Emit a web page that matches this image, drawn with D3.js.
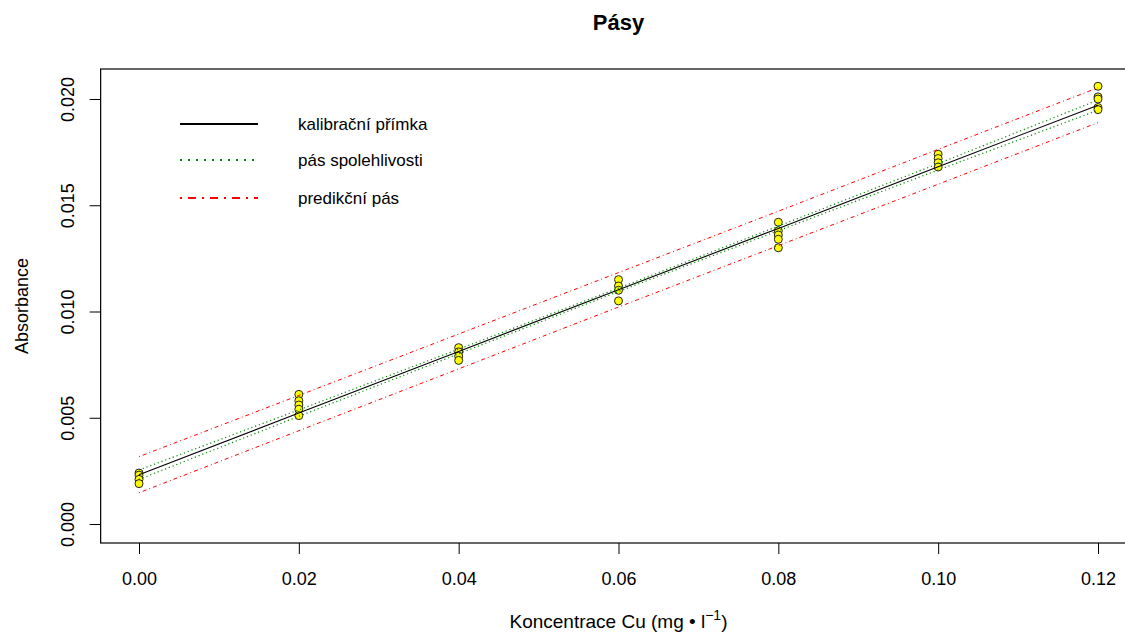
<!DOCTYPE html>
<html>
<head>
<meta charset="utf-8">
<script src="https://cdn.jsdelivr.net/npm/d3@7/dist/d3.min.js"></script>
<style>
  html, body { margin: 0; padding: 0; background: #fff; }
  svg { display: block; font-family: "Liberation Sans", Arial, sans-serif; }
</style>
</head>
<body>
<svg id="chart" width="1125" height="632"></svg>
<script>
// Concentration levels (mg/l) and measured absorbances for each level
const levels = [0.00, 0.02, 0.04, 0.06, 0.08, 0.10, 0.12];
const absorbance = [
  [0.0024, 0.0023, 0.0021, 0.0019],
  [0.0061, 0.0058, 0.0056, 0.0054, 0.0051],
  [0.0083, 0.0081, 0.0079, 0.0077],
  [0.0115, 0.0112, 0.0110, 0.0105],
  [0.0142, 0.0138, 0.0136, 0.0134, 0.0130],
  [0.0174, 0.0172, 0.0170, 0.0168],
  [0.0206, 0.0201, 0.0200, 0.0196, 0.0195]
];

// Calibration line with its confidence and prediction bands at each level
const fitLine = [0.00232, 0.00522, 0.00812, 0.01102, 0.01391, 0.01681, 0.01971];
const confLower = [0.00210, 0.00507, 0.00801, 0.01094, 0.01380, 0.01666, 0.01947];
const confUpper = [0.00254, 0.00537, 0.00823, 0.01110, 0.01402, 0.01696, 0.01995];
const predLower = [0.00147, 0.00439, 0.00730, 0.01021, 0.01310, 0.01599, 0.01889];
const predUpper = [0.00317, 0.00605, 0.00894, 0.01183, 0.01472, 0.01763, 0.02053];

const xTicks = [0.00, 0.02, 0.04, 0.06, 0.08, 0.10, 0.12];
const yTicks = [0.000, 0.005, 0.010, 0.015, 0.020];

const legendLabels = ["kalibrační přímka", "pás spolehlivosti", "predikční pás"];

const FONT = "Liberation Sans, Arial, sans-serif";
const svg = d3.select("#chart");

const x = d3.scaleLinear().domain([0, 0.12]).range([139, 1098]);
const y = d3.scaleLinear().domain([0, 0.02]).range([524, 99]);

// Plot region extends 4% beyond the data range on x
const xPad = 0.0048;
const boxLeft = x(-xPad), boxRight = x(0.12 + xPad);
const boxTop = 69, boxBottom = 543;

svg.append("rect")
  .attr("x", boxLeft).attr("y", boxTop)
  .attr("width", boxRight - boxLeft).attr("height", boxBottom - boxTop)
  .attr("fill", "none").attr("stroke", "#000").attr("stroke-width", 1.2);

// X axis
const xAxis = d3.axisBottom(x).tickValues(xTicks).tickSize(11).tickPadding(0)
  .tickFormat(d3.format(".2f"));
const gx = svg.append("g").attr("transform", `translate(0,${boxBottom})`).call(xAxis);
gx.select(".domain").remove();
gx.selectAll(".tick line").attr("stroke", "#000").attr("stroke-width", 1);
gx.selectAll(".tick text").attr("y", 42).attr("dy", 0)
  .attr("font-size", 18).attr("fill", "#000").attr("font-family", FONT);

// Y axis with rotated labels
const yAxis = d3.axisLeft(y).tickValues(yTicks).tickSize(11).tickFormat(d3.format(".3f"));
const gy = svg.append("g").attr("transform", `translate(${boxLeft},0)`).call(yAxis);
gy.select(".domain").remove();
gy.selectAll(".tick line").attr("stroke", "#000").attr("stroke-width", 1);
gy.selectAll(".tick text")
  .attr("x", null).attr("dy", null)
  .attr("transform", "translate(-27,0) rotate(-90)")
  .attr("text-anchor", "middle")
  .attr("font-size", 18).attr("fill", "#000").attr("font-family", FONT);

// Measured points
const points = [];
levels.forEach((lv, i) => absorbance[i].forEach(v => points.push({ c: lv, a: v })));
svg.append("g").selectAll("circle").data(points).join("circle")
  .attr("cx", d => x(d.c)).attr("cy", d => y(d.a)).attr("r", 4)
  .attr("fill", "#ffff00").attr("stroke", "#222").attr("stroke-width", 1);

// Bands and calibration line, drawn over the points
const line = d3.line().x((d, i) => x(levels[i])).y(d => y(d));

function drawBand(values, color, dash, width) {
  svg.append("path").datum(values)
    .attr("d", line)
    .attr("fill", "none").attr("stroke", color)
    .attr("stroke-width", width).attr("stroke-dasharray", dash);
}
drawBand(fitLine, "#000", null, 1.1);
drawBand(confUpper, "#008b00", "1.2,2.8", 1.2);
drawBand(confLower, "#008b00", "1.2,2.8", 1.2);
drawBand(predUpper, "#ff0000", "1,3,4,3", 1);
drawBand(predLower, "#ff0000", "1,3,4,3", 1);

// Legend
const legendStyles = [
  { color: "#000", dash: null, width: 2 },
  { color: "#008b00", dash: "2,6", width: 2 },
  { color: "#ff0000", dash: "2,6,8,6", width: 2 }
];
const legendY = [124, 160, 198];
const lg = svg.append("g");
legendLabels.forEach((lab, i) => {
  lg.append("line")
    .attr("x1", 180).attr("x2", 258).attr("y1", legendY[i]).attr("y2", legendY[i])
    .attr("stroke", legendStyles[i].color).attr("stroke-width", legendStyles[i].width)
    .attr("stroke-dasharray", legendStyles[i].dash);
  lg.append("text")
    .attr("x", 298).attr("y", legendY[i] + 6)
    .attr("font-size", 17).attr("fill", "#000")
    .text(lab);
});

// Title
svg.append("text")
  .attr("x", (boxLeft + boxRight) / 2).attr("y", 30)
  .attr("text-anchor", "middle").attr("font-size", 22).attr("font-weight", "bold")
  .text("Pásy");

// Axis titles
const xl = svg.append("text")
  .attr("x", (boxLeft + boxRight) / 2).attr("y", 628)
  .attr("text-anchor", "middle").attr("font-size", 19);
xl.append("tspan").text("Koncentrace Cu (mg • l");
xl.append("tspan").attr("dy", -8).attr("font-size", 14).text("−1");
xl.append("tspan").attr("dy", 8).text(")");

svg.append("text")
  .attr("transform", `translate(28,${(boxTop + boxBottom) / 2}) rotate(-90)`)
  .attr("text-anchor", "middle").attr("font-size", 18)
  .text("Absorbance");
</script>
</body>
</html>
